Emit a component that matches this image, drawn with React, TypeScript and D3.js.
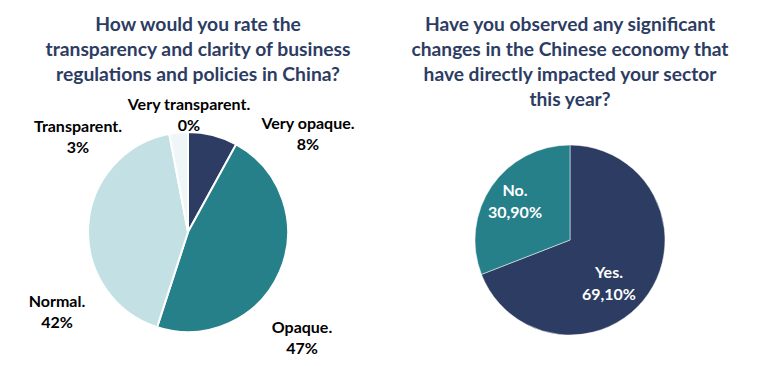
import React from "react";
import * as d3 from "d3";

// Chart 1: transparency rating
const ratingCategories = ["Very opaque.", "Opaque.", "Normal.", "Transparent.", "Very transparent."];
const ratingValues = [8, 47, 42, 3, 0];
const ratingLabels = ["8%", "47%", "42%", "3%", "0%"];
const ratingColors = ["#2D3C63", "#26808A", "#C3E1E5", "#EEF6F8", "#FFFFFF"];
const ratingTitle = [
  "How would you rate the",
  "transparency and clarity of business",
  "regulations and policies in China?",
];

// Chart 2: economic changes
const changeCategories = ["Yes.", "No."];
const changeValues = [69.1, 30.9];
const changeLabels = ["69,10%", "30,90%"];
const changeColors = ["#2D3C63", "#26808A"];
const changeTitle = [
  "Have you observed any significant",
  "changes in the Chinese economy that",
  "have directly impacted your sector",
  "this year?",
];

const FONT = "Lato, 'Open Sans', sans-serif";
const TITLE_COLOR = "#2D3C63";

// label layout offsets (relative to pie centre), layout only
const ratingLabelOffsets: [number, number][] = [
  [120, -99],
  [114, 105],
  [-131, 79],
  [-110, -96],
  [1, -118],
];
const changeLabelOffsets: [number, number][] = [
  [39, 42],
  [-55, -40],
];

function Title({ lines, x, y, size }: { lines: string[]; x: number; y: number; size: number }) {
  return (
    <text
      x={x}
      y={y}
      textAnchor="middle"
      fontFamily={FONT}
      fontWeight={700}
      fontSize={size}
      fill={TITLE_COLOR}
    >
      {lines.map((l, i) => (
        <tspan key={i} x={x} dy={i === 0 ? 0 : 25}>
          {l}
        </tspan>
      ))}
    </text>
  );
}

export default function App() {
  const pie = d3
    .pie<number>()
    .sort(null)
    .value((d) => d)
    .startAngle(0)
    .endAngle(2 * Math.PI);

  // left pie
  const c1 = { x: 188, y: 232 };
  const r1 = 100;
  const arc1 = d3.arc<d3.PieArcDatum<number>>().innerRadius(0).outerRadius(r1);
  const arcs1 = pie(ratingValues);

  // right pie
  const c2 = { x: 570, y: 240 };
  const r2 = 95;
  const arc2 = d3.arc<d3.PieArcDatum<number>>().innerRadius(0).outerRadius(r2);
  const arcs2 = pie(changeValues);

  return (
    <svg
      width={770}
      height={366}
      style={{ position: "absolute", left: 0, top: 0, background: "#fff" }}
    >
      <Title lines={ratingTitle} x={198} y={31} size={19.3} />
      <Title lines={changeTitle} x={570} y={31} size={19.2} />

      <g transform={`translate(${c1.x},${c1.y})`}>
        {arcs1.map((a, i) =>
          a.value > 0 ? (
            <path
              key={i}
              d={arc1(a) || ""}
              fill={ratingColors[i]}
              stroke="#fff"
              strokeWidth={2}
            />
          ) : null
        )}
        {arcs1.map((a, i) => (
          <text
            key={"l" + i}
            textAnchor="middle"
            fontFamily={FONT}
            fontWeight={700}
            fontSize={16}
            fill="#000"
            x={ratingLabelOffsets[i][0]}
            y={ratingLabelOffsets[i][1]}
          >
            <tspan x={ratingLabelOffsets[i][0]} dy={-4}>
              {ratingCategories[i]}
            </tspan>
            <tspan x={ratingLabelOffsets[i][0]} dy={21}>
              {ratingLabels[i]}
            </tspan>
          </text>
        ))}
      </g>

      <g transform={`translate(${c2.x},${c2.y})`}>
        {arcs2.map((a, i) => (
          <path
            key={i}
            d={arc2(a) || ""}
            fill={changeColors[i]}
            stroke="#fff"
            strokeWidth={0.5}
          />
        ))}
        {arcs2.map((a, i) => (
          <text
            key={"l" + i}
            textAnchor="middle"
            fontFamily={FONT}
            fontWeight={700}
            fontSize={16}
            fill="#fff"
            x={changeLabelOffsets[i][0]}
            y={changeLabelOffsets[i][1]}
          >
            <tspan x={changeLabelOffsets[i][0]} dy={-4}>
              {changeCategories[i]}
            </tspan>
            <tspan x={changeLabelOffsets[i][0]} dy={22}>
              {changeLabels[i]}
            </tspan>
          </text>
        ))}
      </g>
    </svg>
  );
}
